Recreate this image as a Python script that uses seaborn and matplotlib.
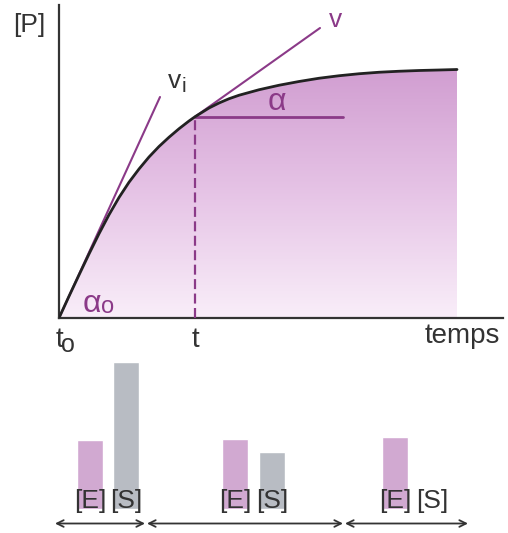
import numpy as np
import pandas as pd
import matplotlib
matplotlib.use("Agg")
import matplotlib.pyplot as plt
from matplotlib.colors import LinearSegmentedColormap
import seaborn as sns

# product formation curve [P] vs time (arbitrary units)
time = [0, 0.25, 0.5, 0.75, 1.0, 1.25, 1.5, 1.75, 2.0, 2.25, 2.5, 2.75, 3.0,
        3.25, 3.4, 3.5, 3.75, 4.0, 4.25, 4.5, 5.0, 5.5, 6.0, 6.5, 7.0, 7.5,
        8.0, 8.5, 9.0, 9.5, 9.95]
product = [0, 0.87, 1.72, 2.56, 3.37, 4.13, 4.82, 5.43, 5.96, 6.44, 6.86, 7.23,
           7.57, 7.88, 8.05, 8.15, 8.40, 8.60, 8.77, 8.91, 9.13, 9.31, 9.46,
           9.59, 9.69, 9.77, 9.83, 9.87, 9.9, 9.92, 9.94]

# tangents: initial rate vi (at t0) and rate v (at t)
vi_t = [0, 2.525]
vi_p = [0, 8.84]
v_t = [3.4, 6.525]
v_p = [8.05, 11.6]
t_point = 3.4
p_at_t = 8.05
alpha_end = 7.1

# enzyme / substrate levels in three phases
bar_species = ["[E]", "[E]", "[E]", "[S]", "[S]", "[S]"]
bar_pos = [0.775, 4.4, 8.4, 1.675, 5.325, 9.325]
bar_conc = [2.75, 2.8, 2.9, 5.9, 2.3, 0.0]
phase_edges = [(-0.1, 2.15), (2.2, 7.1), (7.15, 10.225)]

purple = "#8b3a88"
dark = "#333333"

sns.set_style("white")
plt.rcParams["font.family"] = ["Liberation Sans", "DejaVu Sans"]

fig = plt.figure(figsize=(5.08, 5.33), dpi=100)
ax = fig.add_axes([59 / 508, 1 - 318 / 533, 444 / 508, 313 / 533])

# gradient fill under the curve
cmap = LinearSegmentedColormap.from_list("pp", ["#f9eef9", "#e6c4e6", "#d19ed1"])
grad = np.linspace(0, 1, 256).reshape(-1, 1)
im = ax.imshow(grad, extent=[0, time[-1], 0, max(product)], origin="lower",
               aspect="auto", cmap=cmap, zorder=1)
poly = ax.fill_between(time, product, 0, color="none", lw=0)
im.set_clip_path(poly.get_paths()[0], transform=ax.transData)

sns.lineplot(x=time, y=product, ax=ax, color="#222222", lw=2, zorder=4, sort=False)
ax.plot(vi_t, vi_p, color=purple, lw=1.5, zorder=3)
ax.plot(v_t, v_p, color=purple, lw=1.5, zorder=3)
ax.plot([t_point, alpha_end], [p_at_t, p_at_t], color=purple, lw=2, zorder=3)
ax.plot([t_point, t_point], [0, p_at_t], color=purple, lw=1.6, ls=(0, (4.5, 2)), zorder=3)

ax.set_xlim(0, 11.1)
ax.set_ylim(0, 12.52)
ax.set_xticks([])
ax.set_yticks([])
ax.set_xlabel("")
ax.set_ylabel("")
for side in ["top", "right"]:
    ax.spines[side].set_visible(False)
for side in ["left", "bottom"]:
    ax.spines[side].set_color(dark)
    ax.spines[side].set_linewidth(1.6)
ax.patch.set_alpha(0)

ax.text(-0.74, 11.44, "[P]", fontsize=19, color=dark, ha="center", va="baseline")
ax.text(6.91, 11.64, "v", fontsize=19, color=purple, ha="center", va="baseline")
ax.text(2.89, 9.2, "v", fontsize=19, color=dark, ha="center", va="baseline")
ax.text(3.12, 9.04, "i", fontsize=15, color=dark, ha="center", va="baseline")
ax.text(5.44, 8.32, "α", fontsize=23, color=purple, ha="center", va="baseline", zorder=5)
ax.text(0.825, 0.24, "α", fontsize=23, color=purple, ha="center", va="baseline", zorder=5)
ax.text(1.21, 0.2, "o", fontsize=17, color=purple, ha="center", va="baseline", zorder=5)
ax.text(0.0, -1.16, "t", fontsize=20, color=dark, ha="center", va="baseline")
ax.text(0.23, -1.36, "o", fontsize=18, color=dark, ha="center", va="baseline")
ax.text(t_point, -1.16, "t", fontsize=20, color=dark, ha="center", va="baseline")
ax.text(10.09, -1.0, "temps", fontsize=20, color=dark, ha="center", va="baseline")

# lower panel: bars for [E] and [S]
ax2 = fig.add_axes([59 / 508, 0, 444 / 508, 178 / 533])
df = pd.DataFrame({"pos": bar_pos, "conc": bar_conc, "species": bar_species})
sns.barplot(data=df, x="pos", y="conc", hue="species", native_scale=True, dodge=False,
            palette={"[E]": "#d8a2d8", "[S]": "#b6bbc5"}, width=0.72,
            errorbar=None, legend=False, ax=ax2, zorder=1)
for x, s in zip(bar_pos, bar_species):
    ax2.text(x, 0.04, s, fontsize=19, color=dark, ha="center", va="baseline", zorder=3)
for a, b in phase_edges:
    ax2.annotate("", xy=(b, -0.58), xytext=(a, -0.58),
                 arrowprops=dict(arrowstyle="<->", color=dark, lw=1.3,
                                 shrinkA=0, shrinkB=0, mutation_scale=12))
ax2.set_xlim(0, 11.1)
ax2.set_ylim(-0.96, 6.16)
ax2.set_xticks([])
ax2.set_yticks([])
ax2.set_xlabel("")
ax2.set_ylabel("")
sns.despine(ax=ax2, left=True, bottom=True)
ax2.patch.set_alpha(0)

fig.savefig("out.png", dpi=100)
